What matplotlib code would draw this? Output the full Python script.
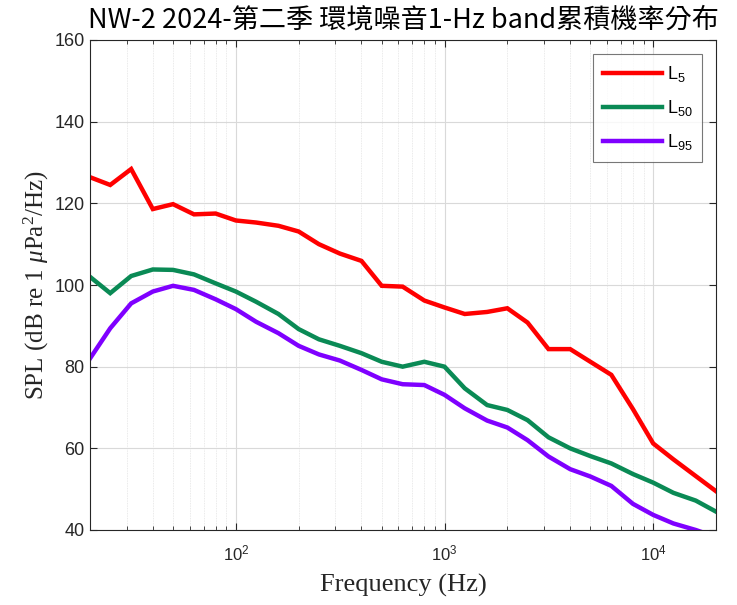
import matplotlib
matplotlib.use("Agg")
import matplotlib.pyplot as plt
from matplotlib.ticker import LogLocator, NullFormatter, FuncFormatter
import numpy as np

plt.rcParams["mathtext.fontset"] = "custom"
plt.rcParams["mathtext.rm"] = "Liberation Serif"
plt.rcParams["mathtext.it"] = "Liberation Serif:italic"

freqs = [20, 25, 31.5, 40, 50, 63, 80, 100, 125, 160, 200, 250, 315, 400, 500, 630,
         800, 1000, 1250, 1600, 2000, 2500, 3150, 4000, 5000, 6300, 8000, 10000,
         12500, 16000, 20000]
L5 = [126.4, 124.5, 128.4, 118.6, 119.8, 117.3, 117.5, 115.8, 115.3, 114.5, 113.1,
      110.0, 107.7, 105.9, 99.8, 99.6, 96.2, 94.5, 92.9, 93.4, 94.3, 90.8, 84.3,
      84.3, 81.2, 78.0, 69.6, 61.2, 57.3, 53.2, 49.5]
L50 = [102.0, 98.0, 102.2, 103.8, 103.7, 102.6, 100.4, 98.4, 95.9, 92.9, 89.2,
       86.7, 85.1, 83.3, 81.2, 80.0, 81.2, 80.0, 74.7, 70.6, 69.4, 66.9, 62.7,
       60.0, 58.1, 56.3, 53.7, 51.6, 49.1, 47.2, 44.5]
L95 = [82.0, 89.4, 95.5, 98.4, 99.8, 98.8, 96.5, 94.1, 91.0, 88.2, 85.1, 83.0,
       81.5, 79.2, 76.9, 75.7, 75.5, 73.1, 69.8, 66.8, 65.1, 62.0, 58.0, 54.9,
       53.1, 50.8, 46.4, 43.7, 41.6, 40.0, 38.3]
series_names = ["$\\mathregular{L_{5}}$", "$\\mathregular{L_{50}}$", "$\\mathregular{L_{95}}$"]
colors = ["#ff0000", "#0a8a55", "#7f00ff"]
y_ticks = [40, 60, 80, 100, 120, 140, 160]
title = "NW-2 2024-第二季 環境噪音1-Hz band累積機率分布"

fig = plt.figure(figsize=(7.37, 6.05), dpi=100)
ax = fig.add_axes([90/737, 1 - 530/605, (716-90)/737, (530-40)/605])

for vals, name, c in zip([L5, L50, L95], series_names, colors):
    ax.plot(freqs, vals, color=c, lw=3.2, label=name, solid_joinstyle="miter")

ax.set_xscale("log")
ax.set_xlim(20, 20000)
ax.set_ylim(40, 160)
ax.set_yticks(y_ticks)
ax.xaxis.set_major_locator(LogLocator(base=10, numticks=10))
ax.xaxis.set_major_formatter(FuncFormatter(
    lambda v, p: "$\\mathregular{10^{%d}}$" % int(round(np.log10(v)))))
ax.xaxis.set_minor_locator(LogLocator(base=10, subs=range(2, 10), numticks=20))
ax.xaxis.set_minor_formatter(NullFormatter())

ax.grid(True, which="major", color="#d9d9d9", lw=0.8)
ax.grid(True, which="minor", axis="x", color="#e3e3e3", lw=0.6, ls=(0, (1, 1)))
ax.set_axisbelow(True)

ax.tick_params(which="both", direction="in", top=True, right=True,
               colors="#262626", labelcolor="#262626")
ax.tick_params(axis="y", labelsize=13, pad=4)
ax.tick_params(axis="x", labelsize=12, pad=10)
ax.tick_params(which="major", length=5, width=0.8)
ax.tick_params(which="minor", length=3, width=0.6)
for lab in ax.get_xticklabels() + ax.get_yticklabels():
    lab.set_family("Liberation Sans")
for s in ax.spines.values():
    s.set_color("#262626")
    s.set_linewidth(0.8)

ax.set_xlabel("Frequency (Hz)", family="Liberation Serif", fontsize=19, color="#262626", labelpad=7)
ax.set_ylabel("SPL (dB re 1 $\\mu$Pa$^2$/Hz)", family="Liberation Serif", fontsize=18,
              color="#262626", labelpad=2)

ax.set_title(title, family=["Noto Sans CJK TC", "DejaVu Sans"], fontsize=19.5, pad=9)

leg = ax.legend(loc="upper right", fontsize=13, frameon=True, fancybox=False,
                edgecolor="#555555", handlelength=3.27, handletextpad=0.25,
                borderpad=0.55, labelspacing=0.78, borderaxespad=0,
                bbox_to_anchor=(0.978, 0.971))
leg.get_frame().set_linewidth(0.8)
for t in leg.get_texts():
    t.set_family("Liberation Sans")

fig.savefig("out.png", dpi=100)
